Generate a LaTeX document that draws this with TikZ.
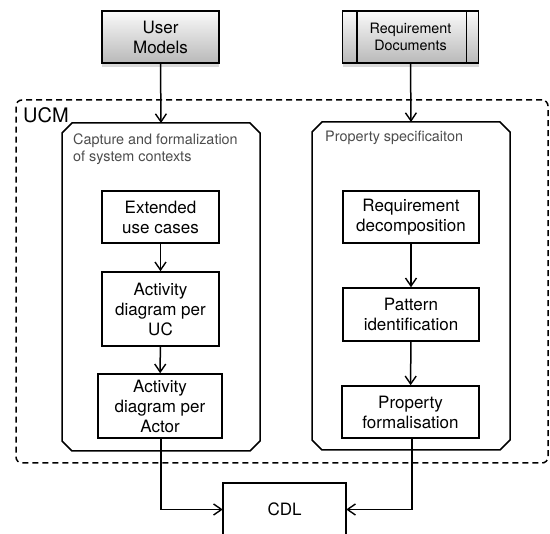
\documentclass[tikz,border=0pt]{standalone}
\usepackage{fontspec}
\setmainfont{TeX Gyre Heros}
\usetikzlibrary{arrows.meta,shadows}
\begin{document}
\begin{tikzpicture}[x=1pt,y=-1pt,
  lw/.style={line width=1.5pt},
  arr/.style={lw,-{Straight Barb[length=8pt,width=11pt,line width=1.4pt]}},
  srcbox/.style={lw,draw,top color=gray!4,bottom color=gray!55,
    drop shadow={opacity=0.3,shadow xshift=0pt,shadow yshift=-4pt},
    minimum height=52pt,align=center,inner sep=0pt},
  stepbox/.style={lw,draw,fill=white,align=center,inner sep=0pt,
    font=\fontsize{17}{20}\selectfont},
  container/.style={lw,draw,line join=miter},
  ctext/.style={text=black!70,align=left,inner sep=0pt,anchor=north west,
    font=\fontsize{14.4}{16.7}\selectfont},
]
\useasboundingbox (0,0) rectangle (550,534);

% source boxes
\node[srcbox,minimum width=117pt,font=\fontsize{17}{20}\selectfont] (um) at (160.5,37) {User\\Models};
\node[srcbox,minimum width=136pt,font=\fontsize{14.3}{17}\selectfont] (rd) at (410.5,37) {Requirement\\Documents};
\draw[lw] ([xshift=15pt]rd.north west) -- ([xshift=15pt]rd.south west);
\draw[lw] ([xshift=-13pt]rd.north east) -- ([xshift=-13pt]rd.south east);

% UCM frame
\node[lw,draw,dashed,dash pattern=on 6pt off 4pt,rounded corners=6pt,
  minimum width=532pt,minimum height=363pt,inner sep=0pt] (ucm) at (282,281.5) {};
\node[anchor=base west,inner sep=0pt,font=\fontsize{20}{24}\selectfont] (ucmlbl) at (23,123) {UCM};

% containers (chamfered)
\draw[container] (72,123) -- (250,123) -- (260,133) -- (260,441) -- (250,451)
  -- (72,451) -- (62,441) -- (62,133) -- cycle;
\coordinate (lctop) at (161,123);
\draw[container] (322,122) -- (500,122) -- (510,132) -- (510,440) -- (500,450)
  -- (322,450) -- (312,440) -- (312,132) -- cycle;
\coordinate (rctop) at (411,122);
\node[ctext] (lct) at (73,133.5) {Capture and formalization\\of system contexts};
\node[ctext] (rct) at (325,131) {Property specificaiton};

% left steps
\node[stepbox,minimum width=117pt,minimum height=52pt] (ext) at (160.5,217) {Extended\\use cases};
\node[stepbox,minimum width=117pt,minimum height=74pt] (auc) at (160.5,309) {Activity\\diagram per\\UC};
\node[stepbox,minimum width=124pt,minimum height=64pt] (aact) at (160,406) {Activity\\diagram per\\Actor};

% right steps
\node[stepbox,minimum width=136pt,minimum height=52pt] (reqd) at (411,217) {Requirement\\decomposition};
\node[stepbox,minimum width=136pt,minimum height=53pt] (pat) at (411,314.5) {Pattern\\identification};
\node[stepbox,minimum width=137pt,minimum height=52pt] (prop) at (410.5,412) {Property\\formalisation};

% CDL
\node[inner sep=0pt,minimum width=123pt,minimum height=53pt,
  font=\fontsize{17}{20}\selectfont] (cdl) at (284.5,509.5) {CDL};
\draw[lw] (cdl.south west) -- (cdl.north west) -- (cdl.north east) -- (cdl.south east);

% connectors
\draw[arr] (um.south) -- (lctop);
\draw[arr] (rd.south) -- (rctop);
\draw[arr] (ext) -- (auc);
\draw[arr] (auc) -- (aact);
\draw[arr] (reqd) -- (pat);
\draw[arr] (pat) -- (prop);
\draw[arr] ([xshift=1pt]aact.south) |- (cdl.west);
\draw[arr] ([xshift=1.5pt]prop.south) |- (cdl.east);
\end{tikzpicture}
\end{document}
